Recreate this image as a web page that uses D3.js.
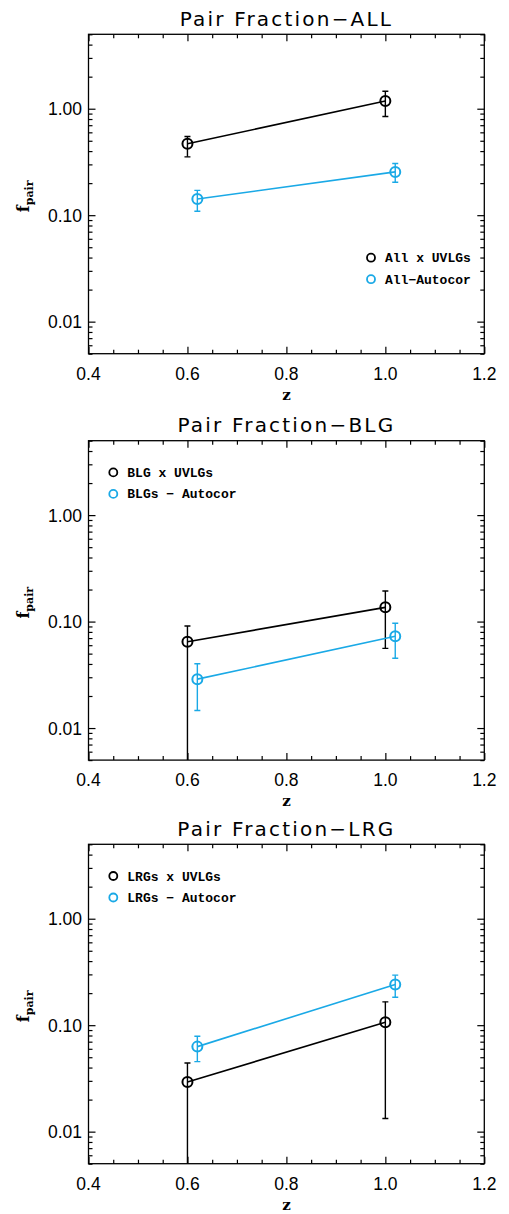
<!DOCTYPE html>
<html><head><meta charset="utf-8">
<script src="https://cdn.jsdelivr.net/npm/d3@7"></script>
<style>body{margin:0;background:#fff}svg{display:block}</style>
</head><body>
<svg id="c" width="509" height="1214"></svg>
<script>
// ---- data ----
const zBlack = [0.6, 1.0];
const zCyan = [0.62, 1.02];
const titles = ["Pair Fraction\u2212ALL", "Pair Fraction\u2212BLG", "Pair Fraction\u2212LRG"];
const legendBlack = ["All x UVLGs", "BLG x UVLGs", "LRGs x UVLGs"];
const legendCyan = ["All\u2212Autocor", "BLGs \u2212 Autocor", "LRGs \u2212 Autocor"];
// black series (cross-correlation)
const allCross = [0.469, 1.18], allCrossLo = [0.353, 0.846], allCrossHi = [0.549, 1.46];
const blgCross = [0.0647, 0.136], blgCrossLo = [0.0001, 0.056], blgCrossHi = [0.091, 0.194];
const lrgCross = [0.0293, 0.1064], lrgCrossLo = [0.0001, 0.0133], lrgCrossHi = [0.0442, 0.1656];
// cyan series (autocorrelation)
const allAuto = [0.142, 0.255], allAutoLo = [0.109, 0.204], allAutoHi = [0.171, 0.306];
const blgAuto = [0.0288, 0.0727], blgAutoLo = [0.0146, 0.0452], blgAutoHi = [0.0402, 0.0964];
const lrgAuto = [0.0629, 0.241], lrgAutoLo = [0.0455, 0.183], lrgAutoHi = [0.0787, 0.295];
const xTicks = [0.4, 0.6, 0.8, 1.0, 1.2];
const xTickLabels = ["0.4", "0.6", "0.8", "1.0", "1.2"];
const yTicks = [0.01, 0.1, 1];
const yTickLabels = ["0.01", "0.10", "1.00"];

const panels = [
  {top: 34.3, title: titles[0], lb: legendBlack[0], lc: legendCyan[0], legPos: "right",
   b: allCross, bLo: allCrossLo, bHi: allCrossHi, c: allAuto, cLo: allAutoLo, cHi: allAutoHi},
  {top: 440.7, title: titles[1], lb: legendBlack[1], lc: legendCyan[1], legPos: "left",
   b: blgCross, bLo: blgCrossLo, bHi: blgCrossHi, c: blgAuto, cLo: blgAutoLo, cHi: blgAutoHi},
  {top: 844.3, title: titles[2], lb: legendBlack[2], lc: legendCyan[2], legPos: "left",
   b: lrgCross, bLo: lrgCrossLo, bHi: lrgCrossHi, c: lrgAuto, cLo: lrgAutoLo, cHi: lrgAutoHi}
];

const CYAN = "#1aa9e6";
const svg = d3.select("#c");
const L = 88.5, R = 484.3, H = 319.4;

panels.forEach((p, i) => {
  const g = svg.append("g");
  const x = d3.scaleLinear().domain([0.4, 1.2]).range([L, R]);
  const y = d3.scaleLog().domain([0.005, 5]).range([p.top + H, p.top]);
  const clipId = "clip" + i;
  g.append("clipPath").attr("id", clipId).append("rect")
    .attr("x", L).attr("y", p.top).attr("width", R - L).attr("height", H);

  // title
  g.append("text").attr("x", (L + R) / 2).attr("y", p.top - 8.6)
    .attr("text-anchor", "middle").attr("font-family", "DejaVu Sans")
    .attr("font-size", 20).attr("letter-spacing", 2.2).attr("fill", "#000").text(p.title);

  // frame
  g.append("rect").attr("x", L).attr("y", p.top).attr("width", R - L).attr("height", H)
    .attr("fill", "none").attr("stroke", "#000").attr("stroke-width", 1.3);

  const xMinor = d3.range(0.45, 1.2, 0.05).filter(v => Math.abs(Math.round(v * 5) - v * 5) > 1e-6);
  const yMinor = [];
  [0.001, 0.01, 0.1, 1].forEach(d => { for (let k = 2; k <= 9; k++) { const v = d * k; if (v >= 0.005 && v <= 5) yMinor.push(v); } });

  const axisStyle = sel => { sel.select(".domain").remove(); sel.selectAll("line").attr("stroke", "#000").attr("stroke-width", 1.2); };

  g.append("g").attr("transform", `translate(0,${p.top + H})`)
    .call(d3.axisTop(x).tickValues(xTicks).tickSize(7).tickFormat("")).call(axisStyle);
  g.append("g").attr("transform", `translate(0,${p.top + H})`)
    .call(d3.axisTop(x).tickValues(xMinor).tickSize(4).tickFormat("")).call(axisStyle);
  g.append("g").attr("transform", `translate(0,${p.top})`)
    .call(d3.axisBottom(x).tickValues(xTicks).tickSize(7).tickFormat("")).call(axisStyle);
  g.append("g").attr("transform", `translate(0,${p.top})`)
    .call(d3.axisBottom(x).tickValues(xMinor).tickSize(4).tickFormat("")).call(axisStyle);
  g.append("g").attr("transform", `translate(${L},0)`)
    .call(d3.axisRight(y).tickValues(yTicks).tickSize(7).tickFormat("")).call(axisStyle);
  g.append("g").attr("transform", `translate(${L},0)`)
    .call(d3.axisRight(y).tickValues(yMinor).tickSize(4).tickFormat("")).call(axisStyle);
  g.append("g").attr("transform", `translate(${R},0)`)
    .call(d3.axisLeft(y).tickValues(yTicks).tickSize(7).tickFormat("")).call(axisStyle);
  g.append("g").attr("transform", `translate(${R},0)`)
    .call(d3.axisLeft(y).tickValues(yMinor).tickSize(4).tickFormat("")).call(axisStyle);

  // tick labels
  g.selectAll(".xl").data(xTicks).enter().append("text")
    .attr("x", d => x(d)).attr("y", p.top + H + 26.3).attr("text-anchor", "middle")
    .attr("font-family", "Liberation Sans").attr("font-size", 17.5).attr("fill", "#000")
    .text((d, k) => xTickLabels[k]);
  g.selectAll(".yl").data(yTicks).enter().append("text")
    .attr("x", L - 6.5).attr("y", d => y(d) + 6.5).attr("text-anchor", "end")
    .attr("font-family", "Liberation Sans").attr("font-size", 17.5).attr("fill", "#000")
    .text((d, k) => yTickLabels[k]);

  // axis titles
  g.append("text").attr("x", (L + R) / 2).attr("y", p.top + H + 46).attr("text-anchor", "middle")
    .attr("font-family", "DejaVu Serif").attr("font-weight", "bold").attr("font-size", 15).text("z");
  const yl = g.append("text").attr("transform", `translate(29,${p.top + 162}) rotate(-90)`)
    .attr("text-anchor", "middle").attr("font-family", "DejaVu Serif").attr("font-weight", "bold")
    .attr("font-size", 16);
  yl.append("tspan").text("f");
  yl.append("tspan").attr("font-size", 11).attr("dy", 4).text("pair");

  // series
  const drawSeries = (zs, vals, lo, hi, color) => {
    const s = g.append("g").attr("clip-path", `url(#${clipId})`);
    s.append("path").datum(zs.map((z, k) => [z, vals[k]]))
      .attr("d", d3.line().x(d => x(d[0])).y(d => y(d[1])))
      .attr("fill", "none").attr("stroke", color).attr("stroke-width", 1.6);
    zs.forEach((z, k) => {
      const cx = x(z);
      s.append("line").attr("x1", cx).attr("x2", cx).attr("y1", y(lo[k])).attr("y2", y(hi[k]))
        .attr("stroke", color).attr("stroke-width", 1.4);
      [lo[k], hi[k]].forEach(v => {
        s.append("line").attr("x1", cx - 3).attr("x2", cx + 3).attr("y1", y(v)).attr("y2", y(v))
          .attr("stroke", color).attr("stroke-width", 1.4);
      });
      s.append("circle").attr("cx", cx).attr("cy", y(vals[k])).attr("r", 5)
        .attr("fill", "none").attr("stroke", color).attr("stroke-width", 2);
    });
  };
  drawSeries(zBlack, p.b, p.bLo, p.bHi, "#000");
  drawSeries(zCyan, p.c, p.cLo, p.cHi, CYAN);

  // legend
  let lx, ly;
  if (p.legPos === "right") { lx = 371; ly = p.top + 223.4; }
  else { lx = 113.3; ly = p.top + 31.7; }
  [[p.lb, "#000"], [p.lc, CYAN]].forEach((e, k) => {
    const yy = ly + k * 21.5;
    g.append("circle").attr("cx", lx).attr("cy", yy).attr("r", 4).attr("fill", "none")
      .attr("stroke", e[1]).attr("stroke-width", 1.8);
    g.append("text").attr("x", lx + 14).attr("y", yy + 4.5).attr("font-family", "Liberation Mono")
      .attr("font-weight", "bold").attr("font-size", 13).attr("fill", "#000").text(e[0]);
  });
});
</script>
</body></html>
